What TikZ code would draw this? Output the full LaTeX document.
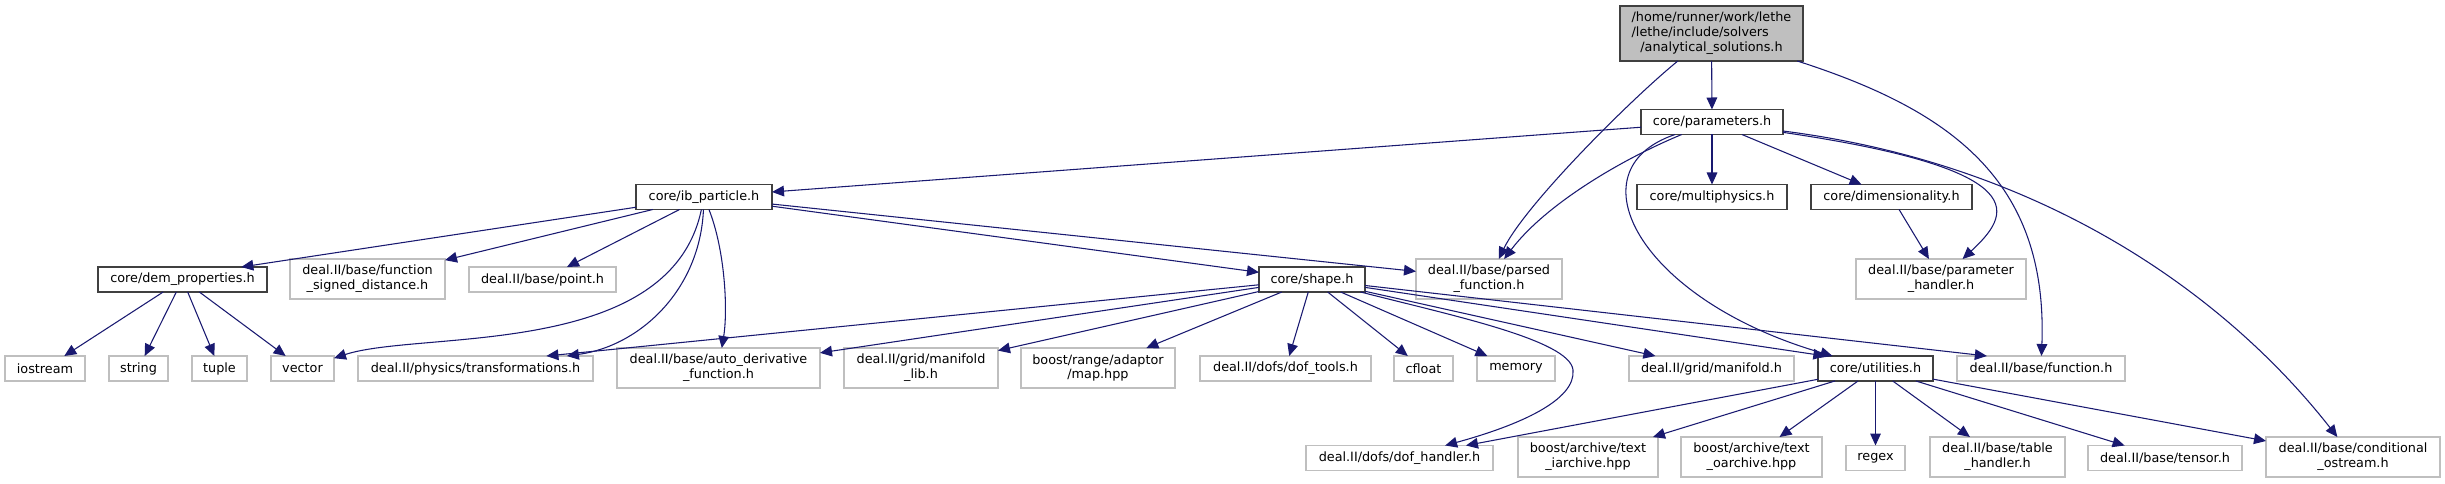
\documentclass[tikz,border=0pt]{standalone}
\usepackage{fontspec}
\setmainfont{DejaVu Sans}
\usetikzlibrary{arrows.meta}
\definecolor{linkblue}{HTML}{191970}
\begin{document}
\begin{tikzpicture}[x=0.75pt, y=-0.75pt,
	box/.style={rectangle, inner sep=0pt, outer sep=0pt, align=center, line width=1pt,
		minimum height=18.75pt, font=\fontsize{9.6}{11.2}\selectfont},
	mainbox/.style={box, draw=black!75, fill=black!25},
	hdr/.style={box, draw=black!75, fill=white},
	ext/.style={box, draw=black!25, fill=white},
	tall/.style={minimum height=30pt},
	wd/.style={minimum width=#1*0.75pt},
	incl/.style={draw=linkblue, line width=0.8pt, -{Triangle[length=9pt,width=8pt]}}]
	\useasboundingbox (0,0) rectangle (2445,484);

	%% main file
	\node[mainbox, wd=183, minimum height=41.25pt] (root) at (1711.5,33.5)
		{\begin{tabular}{@{}l@{}}/home/runner/work/lethe\\/lethe/include/solvers\\\multicolumn{1}{@{}c@{}}{/analytical\_solutions.h}\end{tabular}};

	%% first level
	\node[hdr, wd=142] (params) at (1712,122) {core/parameters.h};

	\node[hdr, wd=136] (ibp) at (704,197) {core/ib\_particle.h};
	\node[hdr, wd=150] (multi) at (1712,197) {core/multiphysics.h};
	\node[hdr, wd=161] (dimen) at (1891.5,197) {core/dimensionality.h};

	%% middle row
	\node[hdr, wd=169] (demp) at (182.5,279.5) {core/dem\_properties.h};
	\node[ext, tall, wd=155] (fsd) at (367.5,279) {deal.II/base/function\\\_signed\_distance.h};
	\node[ext, wd=147] (point) at (542.5,279.5) {deal.II/base/point.h};
	\node[hdr, wd=106] (shape) at (1312,279.5) {core/shape.h};
	\node[ext, tall, wd=146] (parsed) at (1489,279) {deal.II/base/parsed\\\_function.h};
	\node[ext, tall, wd=170] (parh) at (1941,279) {deal.II/base/parameter\\\_handler.h};

	%% lower row
	\node[ext, wd=80] (iostr) at (45,368.5) {iostream};
	\node[ext, wd=59] (string) at (138.5,368.5) {string};
	\node[ext, wd=55] (tuple) at (219.5,368.5) {tuple};
	\node[ext, wd=63] (vector) at (302.5,368.5) {vector};
	\node[ext, wd=235] (transf) at (475.5,368.5) {deal.II/physics/transformations.h};
	\node[ext, tall, wd=203] (autod) at (718.5,368) {deal.II/base/auto\_derivative\\\_function.h};
	\node[ext, tall, wd=154] (mflib) at (921,368) {deal.II/grid/manifold\\\_lib.h};
	\node[ext, tall, wd=154] (map) at (1098,368) {boost/range/adaptor\\/map.hpp};
	\node[ext, wd=171] (doft) at (1285.5,368.5) {deal.II/dofs/dof\_tools.h};
	\node[ext, wd=59] (cfloat) at (1423.5,368.5) {cfloat};
	\node[ext, wd=78] (memory) at (1516,368.5) {memory};
	\node[ext, wd=165] (mfold) at (1711.5,368.5) {deal.II/grid/manifold.h};
	\node[hdr, wd=115] (util) at (1875.5,368.5) {core/utilities.h};
	\node[ext, wd=168] (func) at (2041,368.5) {deal.II/base/function.h};

	%% bottom row
	\node[ext, wd=187] (dofh) at (1399.5,458) {deal.II/dofs/dof\_handler.h};
	\node[ext, tall, wd=140] (tia) at (1588,457) {boost/archive/text\\\_iarchive.hpp};
	\node[ext, tall, wd=141] (toa) at (1751.5,457) {boost/archive/text\\\_oarchive.hpp};
	\node[ext, wd=59] (regex) at (1875.5,458) {regex};
	\node[ext, tall, wd=135] (tableh) at (1997.5,457) {deal.II/base/table\\\_handler.h};
	\node[ext, wd=154] (tensor) at (2165,458) {deal.II/base/tensor.h};
	\node[ext, tall, wd=174] (condo) at (2353,457) {deal.II/base/conditional\\\_ostream.h};

	%% includes of the main file
	\draw[incl] (root) -- (params);
	\draw[incl] (root) .. controls (1630,100) and (1525,205) .. (parsed);
	\draw[incl] (root) .. controls (1950,110) and (2048,180) .. (func);

	%% core/parameters.h
	\draw[incl] (params) -- (ibp);
	\draw[incl] (params) .. controls (1620,160) and (1545,205) .. (parsed);
	\draw[incl] (params) .. controls (1570,170) and (1640,300) .. (util);
	\draw[incl] (params) -- (multi);
	\draw[incl] (params) -- (dimen);
	\draw[incl] (params) .. controls (2040,170) and (2010,215) .. (parh);
	\draw[incl] (params) .. controls (2050,165) and (2230,300) .. (condo);
	\draw[incl] (dimen) -- (parh);

	%% core/ib_particle.h
	\draw[incl] (ibp) -- (demp.12);
	\draw[incl] (ibp) -- (fsd);
	\draw[incl] (ibp) -- (point);
	\draw[incl] (ibp) .. controls (670,360) and (420,330) .. (vector);
	\draw[incl] (ibp) .. controls (700,290) and (640,346) .. (transf);
	\draw[incl] (ibp) .. controls (725,250) and (728,310) .. (autod);
	\draw[incl] (ibp) -- (shape);
	\draw[incl] (ibp) -- (parsed);

	%% core/dem_properties.h
	\draw[incl] (demp) -- (iostr);
	\draw[incl] (demp) -- (string);
	\draw[incl] (demp) -- (tuple);
	\draw[incl] (demp) -- (vector);

	%% core/shape.h
	\draw[incl] (shape) -- (transf.10);
	\draw[incl] (shape) -- (autod);
	\draw[incl] (shape) -- (mflib);
	\draw[incl] (shape) -- (map);
	\draw[incl] (shape) -- (doft);
	\draw[incl] (shape) -- (cfloat);
	\draw[incl] (shape) -- (memory);
	\draw[incl] (shape) -- (mfold);
	\draw[incl] (shape) -- (util.166);
	\draw[incl] (shape) -- (func.167);
	\draw[incl] (shape) .. controls (1450,315) and (1570,340) .. (1573,370)
		.. controls (1576,400) and (1520,425) .. (dofh);

	%% core/utilities.h
	\draw[incl] (util) -- (dofh);
	\draw[incl] (util) -- (tia);
	\draw[incl] (util) -- (toa);
	\draw[incl] (util) -- (regex);
	\draw[incl] (util) -- (tableh);
	\draw[incl] (util) -- (tensor);
	\draw[incl] (util) -- (condo);
\end{tikzpicture}
\end{document}
